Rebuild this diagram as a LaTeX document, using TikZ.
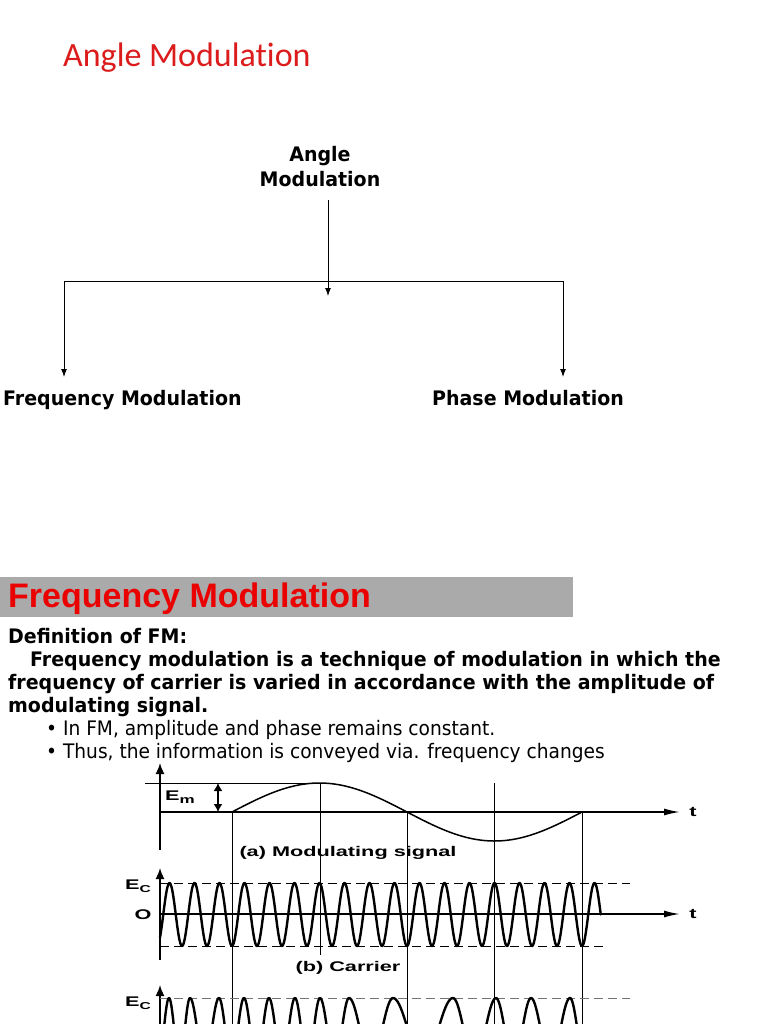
\documentclass[tikz,border=0pt]{standalone}
\usepackage{fontspec}
\setmainfont{DejaVu Sans}
\newfontfamily\titlefont[Ligatures={NoCommon,NoRequired,NoContextual}]{Carlito}
\newfontfamily\slidefont[FakeStretch=0.95]{DejaVu Sans}
\newfontfamily\bulfont[FakeStretch=0.93]{DejaVu Sans}
\newfontfamily\headfont{Liberation Sans}
\newfontfamily\plotfont[FakeStretch=1.55]{Liberation Sans}
\usetikzlibrary{positioning, arrows.meta}
\definecolor{titlered}{RGB}{220,28,28}
\definecolor{headred}{RGB}{235,0,0}
\definecolor{bargray}{RGB}{170,170,170}
\tikzset{
  ttl/.style={font=\titlefont\fontsize{34}{40}\selectfont, text=titlered, inner sep=0pt, anchor=base west},
  treetxt/.style={font=\slidefont\bfseries\fontsize{20}{25}\selectfont, inner sep=0pt},
  bodytxt/.style={font=\slidefont\bfseries\fontsize{20}{23}\selectfont, inner sep=0pt, anchor=base west},
  bultxt/.style={font=\bulfont\fontsize{20}{23}\selectfont, inner sep=0pt, anchor=base west},
  plotlbl/.style={font=\plotfont\bfseries\fontsize{14}{16}\selectfont, inner sep=0pt},
  link/.style={line width=1pt},
  axis/.style={line width=1.6pt},
  guide/.style={line width=1pt},
  wave/.style={line width=2.4pt, line join=round, line cap=round},
  lvl/.style={dash pattern=on 9pt off 5pt, line width=1pt},
}

\begin{document}
\begin{tikzpicture}[x=1pt, y=-1pt, >=Latex]
  \useasboundingbox (0,0) rectangle (768,1024);
  \fill[white] (0,0) rectangle (768,1024);
  % slide title
  \node[ttl] (title) at (63,67) {Angle Modulation};

  % tree
  \node[treetxt, align=center] (am) at (320,167) {Angle\\Modulation};
  \coordinate (stem) at (328,200);
  \coordinate (stemend) at (328,296);
  \coordinate (bl) at (64,281);
  \coordinate (br) at (563,281);
  \coordinate (fmtip) at (64,377);
  \coordinate (pmtip) at (563,377);
  \node[treetxt, anchor=base west] (fm) at (3,405) {Frequency Modulation};
  \node[treetxt, anchor=base west] (pm) at (432,405) {Phase Modulation};
  \draw[link, -{Latex[length=8pt,width=6pt]}] (stem) -- (stemend);
  \draw[link] (bl) -- (br);
  \draw[link, -{Latex[length=8pt,width=6pt]}] (bl) -- (fmtip);
  \draw[link, -{Latex[length=8pt,width=6pt]}] (br) -- (pmtip);

  % heading bar
  \fill[bargray] (0,577) rectangle (573,617);
  \node[font=\headfont\bfseries\fontsize{34}{40}\selectfont, text=headred, inner sep=0pt, anchor=base west] (fmhead) at (8,607) {Frequency Modulation};

  % definition text
  \node[bodytxt] (def) at (8,643) {Definition of FM:};
  \node[bodytxt] (l1) at (30,666) {Frequency modulation is a technique of modulation in which the};
  \node[bodytxt] (l2) at (8,689) {frequency of carrier is varied in accordance with the amplitude of};
  \node[bodytxt] (l3) at (8,712) {modulating signal.};
  \node[bultxt] (b1) at (46,735) {\textbullet\ In FM, amplitude and phase remains constant.};
  \node[bultxt] (b2) at (46,758) {\textbullet\ Thus, the information is conveyed via. frequency changes};

  % (a) modulating signal
  \draw[axis, -{Latex[length=11pt,width=9pt]}] (160,850) -- (160,763);
  \draw[axis, -{Latex[length=16pt,width=7pt]}] (160,812) -- (680,812);
  \draw[guide] (145,783) -- (320,783);
  \draw[line width=1.5pt, {Latex[length=8pt,width=9pt]}-{Latex[length=8pt,width=9pt]}] (218,783) -- (218,812);
  \draw[line width=1.5pt] plot[domain=232:582, samples=120] (\x, {812-29*sin((\x-232)/350*360)});
  \node[plotlbl] (em) at (180,797) {E\raisebox{-3pt}{\fontsize{11}{11}\selectfont m}};
  \node[plotlbl] (ta) at (693,812) {t};
  \node[plotlbl] (capa) at (348,853) {(a) Modulating signal};

  % time marks
  \draw[guide] (232,812) -- (232,1024);
  \draw[guide] (320,783) -- (320,955);
  \draw[guide] (407,812) -- (407,1024);
  \draw[guide] (494,783) -- (494,1024);
  \draw[guide] (582,812) -- (582,1024);

  % (b) carrier
  \draw[axis, -{Latex[length=11pt,width=9pt]}] (160,960) -- (160,868);
  \draw[axis, -{Latex[length=16pt,width=7pt]}] (160,914) -- (680,914);
  \draw[lvl] (160,883) -- (630,883);
  \draw[lvl] (160,946) -- (603,946);
  \draw[wave] plot[domain=160:600.75, samples=700] (\x, {914.5+31.5*cos((\x-232)*14.4)});
  \node[plotlbl] (ecb) at (138,886) {E\raisebox{-3pt}{\fontsize{10}{10}\selectfont C}};
  \node[plotlbl] (org) at (143,915) {O};
  \node[plotlbl] (tb) at (693,914) {t};
  \node[plotlbl] (capb) at (348,968) {(b) Carrier};

  % (c) FM wave
  \draw[axis, -{Latex[length=11pt,width=9pt]}] (160,1024) -- (160,985);
  \draw[lvl, black!55] (160,998) -- (630,998);
  \node[plotlbl] (ecc) at (138,1003) {E\raisebox{-3pt}{\fontsize{10}{10}\selectfont C}};
  \begin{scope}
    \clip (160,960) rectangle (768,1024);
    \foreach \p/\q/\e in {148/169/169, 169/190/190, 190/219/219, 219/244/244, 244/269/269,
        269/295/295, 295/320/320, 320/349/349, 349/393/393, 393/453/453,
        453/496/496, 496/531/531, 531/570/570, 570/600/586}
      \draw[wave] plot[domain=\p:\e, samples=40] (\x, {1030-32*cos((\x-\p)/(\q-\p)*360)});
  \end{scope}
\end{tikzpicture}
\end{document}
